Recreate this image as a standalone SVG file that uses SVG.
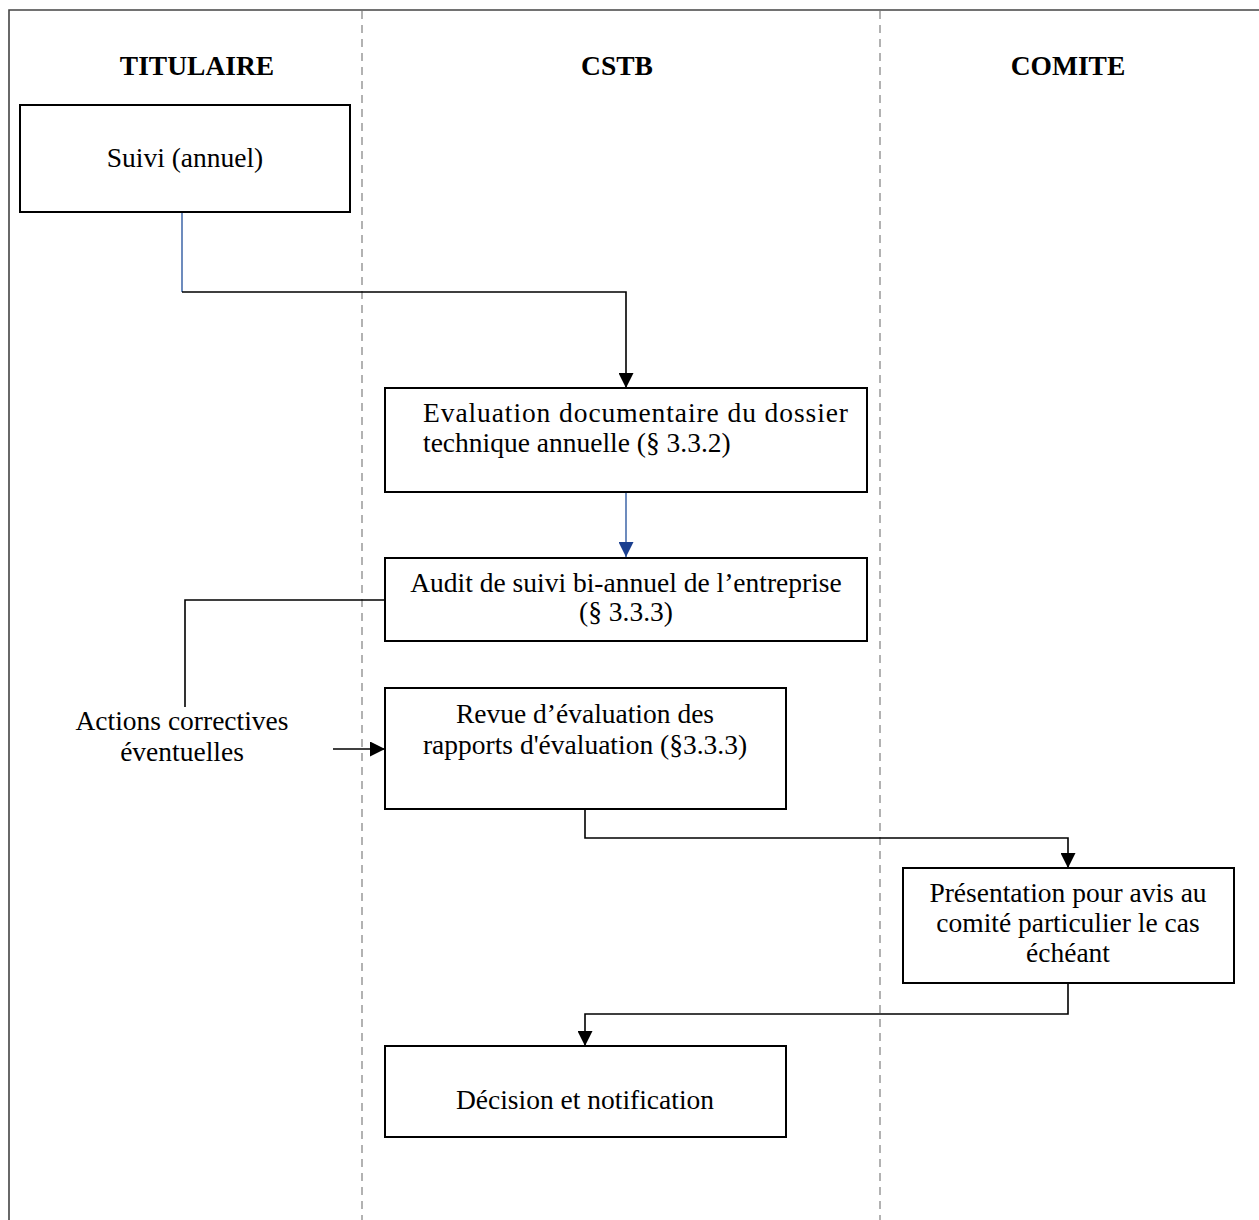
<svg xmlns="http://www.w3.org/2000/svg" width="1259" height="1220" viewBox="0 0 1259 1220">
<style>
.box{fill:#fff;stroke:#000;stroke-width:2}
.t{font-family:"Liberation Serif","Times New Roman",serif;font-size:27.5px;fill:#000}
.h{font-family:"Liberation Serif","Times New Roman",serif;font-size:27.5px;font-weight:bold;fill:#000;text-anchor:middle}
.c{text-anchor:middle}
.lane{stroke:#999;stroke-width:1.5;stroke-dasharray:8 6;fill:none}
.k{stroke:#000;stroke-width:1.6;fill:none}
.b{stroke:#1f4e9a;stroke-width:1.3;fill:none}
</style>
<defs>
<marker id="ak" markerUnits="userSpaceOnUse" markerWidth="15" markerHeight="15" refX="15" refY="7.5" orient="auto"><path d="M0,0 L15,7.5 L0,15 z" fill="#000"/></marker>
<marker id="ab" markerUnits="userSpaceOnUse" markerWidth="15" markerHeight="15" refX="15" refY="7.5" orient="auto"><path d="M0,0 L15,7.5 L0,15 z" fill="#1a3f8f"/></marker>
</defs>
<rect x="0" y="0" width="1259" height="1220" fill="#fff"/>
<g id="frame">
<path d="M9,1220 V10 H1259" fill="none" stroke="#444" stroke-width="1.6"/>
<line class="lane" x1="362" y1="11" x2="362" y2="1220"/>
<line class="lane" x1="880" y1="11" x2="880" y2="1220"/>
<text class="h" x="197" y="75">TITULAIRE</text>
<text class="h" x="617" y="75">CSTB</text>
<text class="h" x="1068" y="75">COMITE</text>
</g>
<g id="connectors">
<path class="b" d="M182,212 V292"/>
<path class="k" d="M182,292 H626 V388" marker-end="url(#ak)"/>
<path class="b" d="M626,492 V557" marker-end="url(#ab)"/>
<path class="k" d="M385,600 H185 V707"/>
<path class="k" d="M333,749 H385" marker-end="url(#ak)"/>
<path class="k" d="M585,809 V838 H1068 V868" marker-end="url(#ak)"/>
<path class="k" d="M1068,983 V1014 H585 V1046" marker-end="url(#ak)"/>
</g>
<g id="n1">
<rect class="box" x="20" y="105" width="330" height="107"/>
<text class="t c" x="185" y="167">Suivi (annuel)</text>
</g>
<g id="n2">
<rect class="box" x="385" y="388" width="482" height="104"/>
<text class="t" x="423" y="422" textLength="425" lengthAdjust="spacing">Evaluation documentaire du dossier</text>
<text class="t" x="423" y="452">technique annuelle (§ 3.3.2)</text>
</g>
<g id="n3">
<rect class="box" x="385" y="558" width="482" height="83"/>
<text class="t c" x="626" y="592">Audit de suivi bi-annuel de l’entreprise</text>
<text class="t c" x="626" y="621">(§ 3.3.3)</text>
</g>
<g id="n_actions">
<text class="t c" x="182" y="730">Actions correctives</text>
<text class="t c" x="182" y="761">éventuelles</text>
</g>
<g id="n4">
<rect class="box" x="385" y="688" width="401" height="121"/>
<text class="t c" x="585" y="723">Revue d’évaluation des</text>
<text class="t c" x="585" y="754">rapports d'évaluation (§3.3.3)</text>
</g>
<g id="n5">
<rect class="box" x="903" y="868" width="331" height="115"/>
<text class="t c" x="1068" y="902">Présentation pour avis au</text>
<text class="t c" x="1068" y="932">comité particulier le cas</text>
<text class="t c" x="1068" y="962">échéant</text>
</g>
<g id="n6">
<rect class="box" x="385" y="1046" width="401" height="91"/>
<text class="t c" x="585" y="1109">Décision et notification</text>
</g>
</svg>
